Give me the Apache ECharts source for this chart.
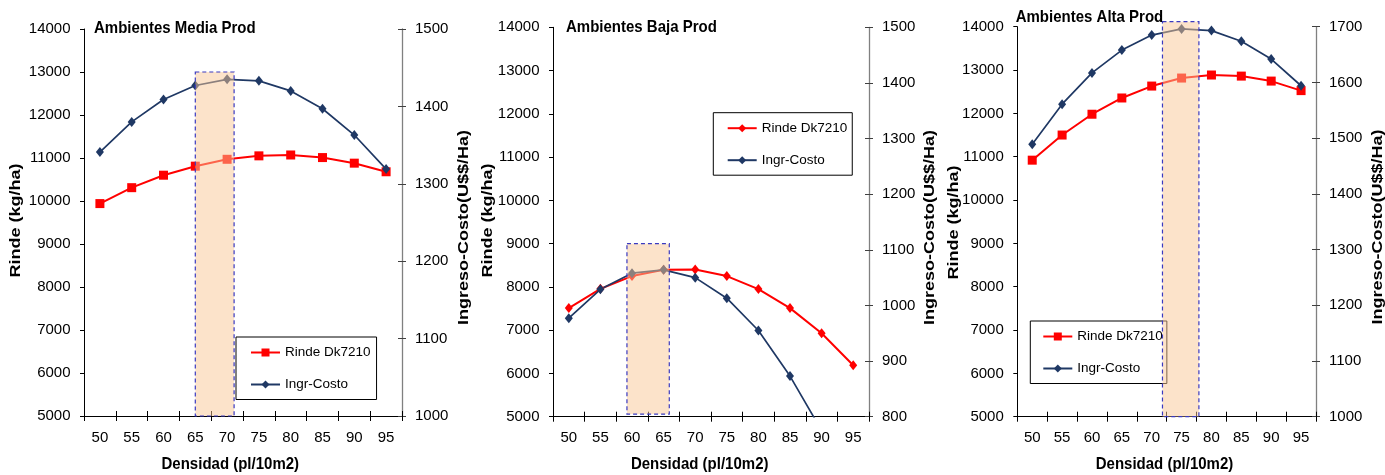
<!DOCTYPE html>
<html>
<head>
<meta charset="utf-8">
<script src="https://cdn.jsdelivr.net/npm/echarts@6/dist/echarts.min.js"></script>
<style>
html,body{margin:0;padding:0;background:#fff;}
#chart{width:1385px;height:475px;}
</style>
</head>
<body>
<div id="chart"></div>
<script>
// ---------- data ----------
const categories = ['50', '55', '60', '65', '70', '75', '80', '85', '90', '95'];

const rindeMedia = [9940, 10310, 10600, 10810, 10970, 11050, 11070, 11010, 10880, 10680];
const ingrMedia  = [1341, 1380, 1409, 1427, 1435, 1433, 1420, 1397, 1363, 1319];

const rindeBaja  = [7510, 7955, 8250, 8395, 8400, 8250, 7950, 7510, 6930, 6190];
const ingrBaja   = [977, 1029, 1058, 1064, 1050, 1013, 955, 873, 775, null];

const rindeAlta  = [10920, 11500, 11980, 12355, 12630, 12815, 12885, 12860, 12745, 12525];
const ingrAlta   = [1489, 1561, 1617, 1658, 1685, 1696, 1693, 1674, 1642, 1594];

// highlight boxes: [densidad from, densidad to, rinde from, rinde to]
const boxMedia = [65, 71.1, 5000, 13000];
const boxBaja  = [59.2, 65.9, 5060, 9000];
const boxAlta  = [71.8, 77.9, 5000, 14115];

const leftRange   = [5000, 14000, 1000];
const rightMedia  = [1000, 1500, 100];
const rightBaja   = [800, 1500, 100];
const rightAlta   = [1000, 1700, 100];

const panelTitles = ['Ambientes Media Prod', 'Ambientes Baja Prod', 'Ambientes Alta Prod'];
const xTitle = 'Densidad (pl/10m2)';
const yLeftTitle = 'Rinde (kg/ha)';
const yRightTitle = 'Ingreso-Costo(U$$/Ha)';
const rindeName = 'Rinde Dk7210';
const ingrName = 'Ingr-Costo';

// ---------- layout ----------
const FONT = 'Liberation Sans, Arial, sans-serif';
const panels = [
  { grid: {left: 84, top: 29, width: 318, height: 387}, rinde: rindeMedia, ingr: ingrMedia, box: boxMedia,
    right: rightMedia, redSymbol: 'rect', redSize: 9,
    legend: {left: 236, top: 337, padding: [8.5, 6, 8, 14]} },
  { grid: {left: 553, top: 27.3, width: 316, height: 389.4}, rinde: rindeBaja, ingr: ingrBaja, box: boxBaja,
    right: rightBaja, redSymbol: 'diamond', redSize: [8, 10],
    legend: {left: 713.3, top: 112.7, padding: [8.5, 5, 8, 13.4]} },
  { grid: {left: 1017.3, top: 26.7, width: 298.7, height: 390}, rinde: rindeAlta, ingr: ingrAlta, box: boxAlta,
    right: rightAlta, redSymbol: 'rect', redSize: 9,
    legend: {left: 1030.3, top: 321, padding: [8.5, 4, 8, 12]} }
];

const grid = [], xAxis = [], yAxis = [], series = [], legend = [];
const plain = function (v) { return String(v); };

panels.forEach(function (p, i) {
  grid.push(Object.assign({containLabel: false}, p.grid));
  const tickLbl = {fontSize: 15, color: '#000', fontFamily: FONT, formatter: plain};
  // category axis (labels, outside ticks)
  xAxis.push({gridIndex: i, type: 'category', data: categories, position: 'bottom', boundaryGap: true,
    axisLine: {show: true, onZero: false, lineStyle: {color: '#000', width: 1}},
    axisTick: {show: true, length: 5, lineStyle: {color: '#000'}},
    axisLabel: Object.assign({margin: 14}, tickLbl), splitLine: {show: false}});
  // duplicate for inside ticks (cross ticks)
  xAxis.push({gridIndex: i, type: 'category', data: categories, position: 'bottom', boundaryGap: true,
    axisLine: {show: false, onZero: false}, axisTick: {show: true, inside: true, length: 5, lineStyle: {color: '#000'}},
    axisLabel: {show: false}, splitLine: {show: false}});
  // hidden linear axis matching category positions, for the highlight box
  xAxis.push({gridIndex: i, type: 'value', min: 47.5, max: 97.5, position: 'bottom', show: false});

  yAxis.push({gridIndex: i, type: 'value', position: 'left', min: leftRange[0], max: leftRange[1], interval: leftRange[2],
    axisLine: {show: true, lineStyle: {color: '#000'}}, axisTick: {show: true, length: 4, lineStyle: {color: '#000'}},
    axisLabel: Object.assign({margin: 13.5}, tickLbl), splitLine: {show: false}});
  yAxis.push({gridIndex: i, type: 'value', position: 'right', min: p.right[0], max: p.right[1], interval: p.right[2],
    axisLine: {show: true, lineStyle: {color: '#808080', width: 1.3}}, axisTick: {show: true, length: 4, lineStyle: {color: '#404040'}},
    axisLabel: Object.assign({margin: 13}, tickLbl), splitLine: {show: false}});
  yAxis.push({gridIndex: i, type: 'value', position: 'right', min: p.right[0], max: p.right[1], interval: p.right[2],
    axisLine: {show: false}, axisTick: {show: true, inside: true, length: 4, lineStyle: {color: '#404040'}},
    axisLabel: {show: false}, splitLine: {show: false}});

  const sfx = '#' + i;
  series.push({type: 'line', name: rindeName + sfx, xAxisIndex: 3 * i, yAxisIndex: 3 * i, data: p.rinde,
    symbol: p.redSymbol, symbolSize: p.redSize, color: '#FF0000', itemStyle: {color: '#FF0000'},
    lineStyle: {color: '#FF0000', width: 2}, z: 3, animation: false, clip: true});
  series.push({type: 'line', name: ingrName + sfx, xAxisIndex: 3 * i, yAxisIndex: 3 * i + 1, data: p.ingr,
    symbol: 'diamond', symbolSize: [8, 10], color: '#1F3864', itemStyle: {color: '#1F3864'},
    lineStyle: {color: '#1F3864', width: 1.7}, z: 3, animation: false, clip: true});
  series.push({type: 'custom', name: 'box' + sfx, xAxisIndex: 3 * i + 2, yAxisIndex: 3 * i, z: 10, clip: false,
    animation: false, silent: true,
    data: [[p.box[0], p.box[2], p.box[1], p.box[3]]],
    encode: {x: [0, 2], y: [1, 3]},
    renderItem: function (params, api) {
      const a = api.coord([api.value(0), api.value(1)]);
      const b = api.coord([api.value(2), api.value(3)]);
      return {type: 'rect',
        shape: {x: a[0], y: b[1], width: b[0] - a[0], height: a[1] - b[1]},
        style: {fill: 'rgba(250,200,150,0.5)', stroke: '#3a3ac0', lineWidth: 1.2, lineDash: [4, 3]}};
    }});

  legend.push(Object.assign({
    orient: 'vertical', data: [rindeName + sfx, ingrName + sfx], selectedMode: false,
    formatter: function (n) { return n.split('#')[0]; },
    backgroundColor: '#fff', borderColor: '#000', borderWidth: 1, borderRadius: 0,
    itemWidth: 29, itemHeight: 10, itemGap: 18,
    textStyle: {fontSize: 13.5, color: '#000', fontFamily: FONT}
  }, p.legend));
});

// ---------- texts (titles & axis names) ----------
function hText(txt, x, y, align, size) {
  return {type: 'text', x: x, y: y, scaleY: 1.15, silent: true, z: 100,
    style: {text: txt, font: 'bold ' + size + 'px ' + FONT, fill: '#000', align: align, verticalAlign: 'middle'}};
}
function vText(txt, x, y) {
  return {type: 'text', x: x, y: y, rotation: Math.PI / 2, scaleX: 1.2, silent: true, z: 100,
    style: {text: txt, font: 'bold 15px ' + FONT, fill: '#000', align: 'center', verticalAlign: 'middle'}};
}
const graphics = [
  hText(panelTitles[0], 94, 28.3, 'left', 15),
  hText(panelTitles[1], 566, 27.7, 'left', 15),
  hText(panelTitles[2], 1015.7, 17.5, 'left', 15),
  hText(xTitle, 230.3, 464, 'center', 15),
  hText(xTitle, 699.7, 464, 'center', 15),
  hText(xTitle, 1164.5, 464, 'center', 15),
  vText(yLeftTitle, 16, 220.5),
  vText(yLeftTitle, 488.3, 220.5),
  vText(yLeftTitle, 954.3, 222.5),
  vText(yRightTitle, 463.5, 227.5),
  vText(yRightTitle, 930, 227.5),
  vText(yRightTitle, 1378, 227)
];

const chart = echarts.init(document.getElementById('chart'), null, {renderer: 'canvas'});
chart.setOption({
  backgroundColor: '#fff',
  animation: false,
  textStyle: {fontFamily: FONT},
  grid: grid, xAxis: xAxis, yAxis: yAxis, series: series, legend: legend,
  graphic: graphics
});
</script>
</body>
</html>
